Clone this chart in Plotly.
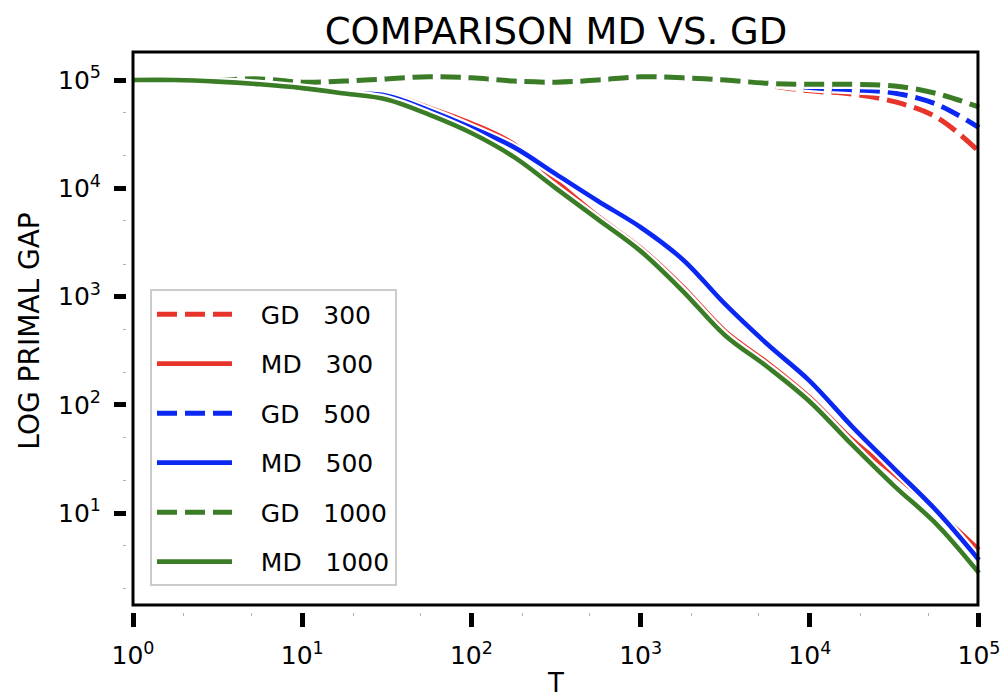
import plotly.graph_objects as go

# ---------------- data ----------------
T = [1, 1.78, 3.16, 5.62, 10, 17.8, 31.6, 56.2, 100, 178, 316, 562,
     1000, 1780, 3160, 5620, 10000, 17800, 31600, 56200, 100000]

gd_300 = [100000, 100000, 100000, 102300, 95500, 97700, 102300, 107200, 104700, 97700, 95500,
          100000, 107200, 104700, 100000, 89100, 79400, 74100, 63100, 45200, 21900]
md_300 = [100000, 100000, 96600, 91200, 84100, 76700, 74100, 55600, 39800, 25700, 11700,
          5500, 2820, 1230, 479, 245, 117, 47.9, 22.9, 10.5, 4.6]
gd_500 = [100000, 100000, 100000, 102300, 95500, 97700, 102300, 107200, 104700, 97700, 95500,
          100000, 107200, 104700, 100000, 93300, 85100, 81300, 75900, 59600, 36300]
md_500 = [100000, 100000, 96600, 91200, 84100, 75900, 71600, 52500, 36300, 24000, 13500,
          7590, 4370, 2190, 851, 363, 166, 63.1, 25.7, 10.5, 3.7]
gd_1000 = [100000, 100000, 100000, 102300, 95500, 97700, 102300, 107200, 104700, 97700, 95500,
           100000, 107200, 104700, 100000, 93300, 91200, 91200, 88100, 75000, 56200]
md_1000 = [100000, 100000, 96600, 91200, 84100, 75000, 66100, 47900, 32400, 19500, 10000,
           5130, 2630, 1120, 437, 224, 107, 42.7, 17.8, 7.9, 2.8]

labels = ["GD 300", "MD 300", "GD 500", "MD 500", "GD 1000", "MD 1000"]

x_tick_vals = [1, 10, 100, 1000, 10000, 100000]
x_tick_text = ["10<sup>0</sup>", "10<sup>1</sup>", "10<sup>2</sup>",
               "10<sup>3</sup>", "10<sup>4</sup>", "10<sup>5</sup>"]
y_tick_vals = [10, 100, 1000, 10000, 100000]
y_tick_text = ["10<sup>1</sup>", "10<sup>2</sup>", "10<sup>3</sup>",
               "10<sup>4</sup>", "10<sup>5</sup>"]

# ---------------- style ----------------
RED = "#e8352c"
BLUE = "#0b28f2"
GREEN = "#3b7d27"
FONT = "DejaVu Sans"
DASH = "20px,8px"
NB = "\u00a0"

series = [
    (labels[0], gd_300, RED, DASH),
    (labels[1], md_300, RED, "solid"),
    (labels[2], gd_500, BLUE, DASH),
    (labels[3], md_500, BLUE, "solid"),
    (labels[4], gd_1000, GREEN, DASH),
    (labels[5], md_1000, GREEN, "solid"),
]

fig = go.Figure()
for name, vals, color, dash in series:
    width = 5 if dash == DASH else 4.6
    # white halo (xkcd path effect)
    fig.add_trace(go.Scatter(
        x=T, y=vals, mode="lines", showlegend=False, hoverinfo="skip",
        legendgroup=name,
        line=dict(color="white", width=width + 4.5, dash=dash, shape="spline", smoothing=1),
    ))
    fig.add_trace(go.Scatter(
        x=T, y=vals, mode="lines", legendgroup=name,
        name=NB * 3 + name.replace(" ", NB * 3),
        line=dict(color=color, width=width, dash=dash, shape="spline", smoothing=1),
    ))

minor_style = dict(ticks="outside", ticklen=3, tickwidth=1.2, tickcolor="#b0b0b0", showgrid=False)

fig.update_layout(
    width=1005, height=698,
    margin=dict(l=127, r=20, t=50, b=86, autoexpand=False),
    paper_bgcolor="white", plot_bgcolor="white",
    font=dict(family=FONT, color="black"),
    title=dict(text="COMPARISON MD VS. GD", xref="paper", x=0.5, xanchor="center",
               yref="container", y=0.955, yanchor="middle",
               font=dict(size=37, family=FONT, color="black")),
    xaxis=dict(type="log", range=[-0.0355, 5.0355], automargin=False,
               tickmode="array", tickvals=x_tick_vals, ticktext=x_tick_text,
               ticks="outside", ticklen=14, tickwidth=5, tickcolor="black",
               ticklabelstandoff=7, minor=minor_style,
               showgrid=False, zeroline=False, showline=False,
               tickfont=dict(size=25, family=FONT),
               title=dict(text="T", font=dict(size=26, family=FONT), standoff=14)),
    yaxis=dict(type="log", range=[0.0877, 5.277], automargin=False,
               tickmode="array", tickvals=y_tick_vals, ticktext=y_tick_text,
               ticks="outside", ticklen=12, tickwidth=5, tickcolor="black",
               ticklabelstandoff=8, minor=minor_style,
               showgrid=False, zeroline=False, showline=False,
               tickfont=dict(size=25, family=FONT),
               title=dict(text="LOG PRIMAL GAP", font=dict(size=28, family=FONT), standoff=10)),
    legend=dict(x=0.0268, y=0.574, xanchor="left", yanchor="top",
                bordercolor="#cccccc", borderwidth=2, bgcolor="rgba(255,255,255,0.85)",
                font=dict(size=25, family=FONT), itemwidth=75, tracegroupgap=14),
    shapes=[dict(type="rect", xref="paper", yref="paper",
                 x0=0.007, x1=0.9918, y0=0.01246, y1=0.9964,
                 line=dict(color="black", width=3), layer="above")],
)

fig.write_html("out.html")
